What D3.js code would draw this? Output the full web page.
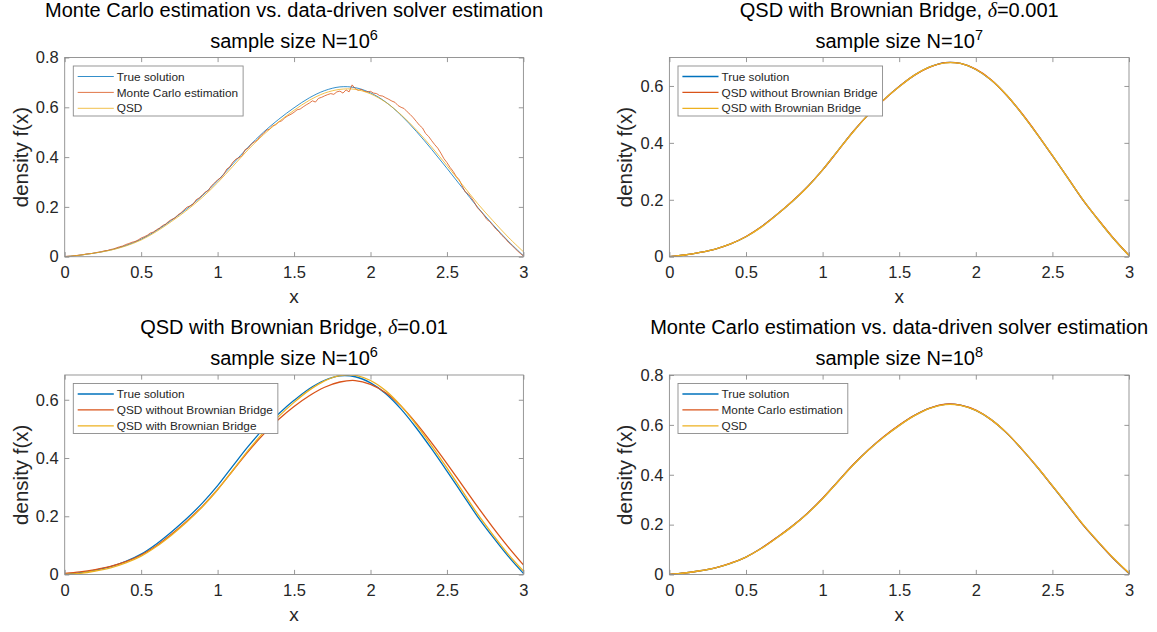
<!DOCTYPE html>
<html><head><meta charset="utf-8">
<script src="https://cdn.jsdelivr.net/npm/d3@7"></script>
<style>body{margin:0;background:#fff}svg{display:block}</style>
</head><body>
<svg id="c" width="1157" height="632"></svg>
<script>
// ---------- data ----------
const X = [0,0.1,0.2,0.3,0.4,0.5,0.6,0.7,0.8,0.9,1,1.1,1.2,1.3,1.4,1.5,1.6,1.7,1.8,1.9,2,2.1,2.2,2.3,2.4,2.5,2.6,2.7,2.8,2.9,3];
const xTicks = [0,0.5,1,1.5,2,2.5,3];
const yTicks08 = [0,0.2,0.4,0.6,0.8];
const yTicks06 = [0,0.2,0.4,0.6];

const trueSolution = [0,0.006,0.015,0.027,0.045,0.070,0.105,0.147,0.193,0.245,0.305,0.373,0.440,0.500,0.552,0.598,0.638,0.667,0.682,0.679,0.658,0.621,0.568,0.503,0.431,0.355,0.277,0.199,0.129,0.063,0.004];

// panel 1 (N=10^6)
const qsd1 = [0,0.006,0.015,0.026,0.043,0.067,0.101,0.142,0.187,0.238,0.297,0.363,0.430,0.490,0.542,0.588,0.628,0.657,0.672,0.672,0.654,0.620,0.570,0.509,0.440,0.366,0.290,0.214,0.145,0.079,0.020];
const xFine = [0,0.02,0.04,0.06,0.08,0.1,0.12,0.14,0.16,0.18,0.2,0.22,0.24,0.26,0.28,0.3,0.32,0.34,0.36,0.38,0.4,0.42,0.44,0.46,0.48,0.5,0.52,0.54,0.56,0.58,0.6,0.62,0.64,0.66,0.68,0.7,0.72,0.74,0.76,0.78,0.8,0.82,0.84,0.86,0.88,0.9,0.92,0.94,0.96,0.98,1,1.02,1.04,1.06,1.08,1.1,1.12,1.14,1.16,1.18,1.2,1.22,1.24,1.26,1.28,1.3,1.32,1.34,1.36,1.38,1.4,1.42,1.44,1.46,1.48,1.5,1.52,1.54,1.56,1.58,1.6,1.62,1.64,1.66,1.68,1.7,1.72,1.74,1.76,1.78,1.8,1.82,1.84,1.86,1.88,1.9,1.92,1.94,1.96,1.98,2,2.02,2.04,2.06,2.08,2.1,2.12,2.14,2.16,2.18,2.2,2.22,2.24,2.26,2.28,2.3,2.32,2.34,2.36,2.38,2.4,2.42,2.44,2.46,2.48,2.5,2.52,2.54,2.56,2.58,2.6,2.62,2.64,2.66,2.68,2.7,2.72,2.74,2.76,2.78,2.8,2.82,2.84,2.86,2.88,2.9,2.92,2.94,2.96,2.98,3];
const mc1 = [
 0.001,0.002,0.002,0.004,0.005, 0.007,0.008,0.011,0.012,0.013,
 0.016,0.018,0.020,0.024,0.025, 0.029,0.031,0.036,0.040,0.043,
 0.049,0.053,0.058,0.061,0.067, 0.075,0.080,0.086,0.095,0.099,
 0.108,0.115,0.125,0.131,0.142, 0.150,0.155,0.168,0.176,0.188,
 0.199,0.204,0.211,0.229,0.236, 0.248,0.260,0.266,0.285,0.296,
 0.309,0.316,0.330,0.352,0.361, 0.380,0.392,0.398,0.405,0.430,
 0.436,0.452,0.461,0.468,0.485, 0.495,0.508,0.512,0.526,0.530,
 0.541,0.546,0.558,0.566,0.572, 0.580,0.590,0.593,0.602,0.610,
 0.617,0.626,0.621,0.636,0.640, 0.646,0.651,0.655,0.652,0.662,
 0.665,0.657,0.670,0.662,0.690, 0.675,0.668,0.672,0.664,0.662,
 0.664,0.657,0.655,0.647,0.645, 0.638,0.632,0.625,0.620,0.607,
 0.600,0.595,0.582,0.571,0.558, 0.543,0.528,0.517,0.495,0.483,
 0.466,0.450,0.436,0.416,0.394, 0.378,0.359,0.343,0.323,0.309,
 0.284,0.260,0.252,0.236,0.218, 0.196,0.183,0.168,0.150,0.141,
 0.126,0.111,0.100,0.085,0.074, 0.059,0.048,0.036,0.024,0.013,
 0.003];

// panel 2 (delta=0.001, N=10^7)
const qsdNoBB2 = [0,0.006,0.015,0.027,0.045,0.071,0.105,0.147,0.194,0.245,0.305,0.372,0.440,0.500,0.551,0.598,0.638,0.666,0.682,0.679,0.659,0.622,0.568,0.504,0.432,0.355,0.278,0.199,0.130,0.064,0.005];
const qsdBB2 = [0,0.006,0.015,0.027,0.045,0.070,0.104,0.147,0.193,0.244,0.305,0.373,0.439,0.500,0.552,0.597,0.638,0.667,0.681,0.679,0.658,0.621,0.569,0.503,0.431,0.356,0.277,0.200,0.129,0.063,0.004];

// panel 3 (delta=0.01, N=10^6)
const qsdNoBB3 = [0.004,0.009,0.017,0.028,0.044,0.067,0.099,0.139,0.184,0.234,0.292,0.357,0.422,0.481,0.533,0.577,0.614,0.643,0.661,0.666,0.653,0.624,0.578,0.519,0.452,0.381,0.307,0.233,0.162,0.095,0.033];
const qsdBB3 = [0,0.004,0.012,0.023,0.040,0.063,0.096,0.136,0.181,0.232,0.291,0.358,0.426,0.488,0.543,0.591,0.633,0.665,0.683,0.684,0.666,0.631,0.579,0.514,0.442,0.366,0.287,0.208,0.137,0.070,0.012];

// panel 4 (N=10^8)
const mc4 = [0,0.006,0.015,0.027,0.046,0.070,0.105,0.148,0.193,0.245,0.306,0.373,0.441,0.500,0.553,0.599,0.638,0.667,0.683,0.679,0.659,0.621,0.569,0.503,0.432,0.355,0.278,0.199,0.130,0.063,0.005];
const qsd4 = [0,0.006,0.015,0.027,0.045,0.070,0.104,0.146,0.192,0.244,0.304,0.372,0.439,0.499,0.551,0.597,0.637,0.666,0.681,0.678,0.658,0.621,0.569,0.504,0.432,0.356,0.279,0.201,0.131,0.065,0.006];

const labelsMC = ['True solution','Monte Carlo estimation','QSD'];
const labelsBB = ['True solution','QSD without Brownian Bridge','QSD with Brownian Bridge'];

// ---------- drawing ----------
const FONT = '"Liberation Sans", Arial, Helvetica, sans-serif';
const COLORS = ['#0072BD','#D95319','#EDB120'];
const AX = '#262626';
const BOX = '#8c8c8c';
const svg = d3.select('#c');

const colL = [64.7, 523.4], colR = [669.4, 1129];
const rowT = [57.5, 256.7], rowB = [375, 574.5];

const panels = [
  {cx: colL, cy: rowT, ymax: 0.8, yt: yTicks08, lw: 0.8,
   title: [{t:'Monte Carlo estimation vs. data-driven solver estimation'}], exp: '6',
   series: [{x:X, y:trueSolution}, {x:xFine, y:mc1, lin:true}, {x:X, y:qsd1}], labels: labelsMC},
  {cx: colR, cy: rowT, ymax: 0.7, yt: yTicks06, lw: 1.3,
   title: [{t:'QSD with Brownian Bridge, '},{t:'δ', it:true},{t:'=0.001'}], exp: '7',
   series: [{x:X, y:trueSolution}, {x:X, y:qsdNoBB2}, {x:X, y:qsdBB2}], labels: labelsBB},
  {cx: colL, cy: rowB, ymax: 0.685, yt: yTicks06, lw: 1.3,
   title: [{t:'QSD with Brownian Bridge, '},{t:'δ', it:true},{t:'=0.01'}], exp: '6',
   series: [{x:X, y:trueSolution}, {x:X, y:qsdNoBB3}, {x:X, y:qsdBB3}], labels: labelsBB},
  {cx: colR, cy: rowB, ymax: 0.8, yt: yTicks08, lw: 1.3,
   title: [{t:'Monte Carlo estimation vs. data-driven solver estimation'}], exp: '8',
   series: [{x:X, y:trueSolution}, {x:X, y:mc4}, {x:X, y:qsd4}], labels: labelsMC}
];

panels.forEach((p, pi) => {
  const [x0, x1] = p.cx, [y0, y1] = p.cy;
  const xs = d3.scaleLinear([0, 3], [x0, x1]);
  const ys = d3.scaleLinear([0, p.ymax], [y1, y0]);
  const g = svg.append('g');

  const clipId = 'clip' + pi;
  svg.append('defs').append('clipPath').attr('id', clipId)
    .append('rect').attr('x', x0).attr('y', y0).attr('width', x1 - x0).attr('height', y1 - y0);

  // curves
  const lg = g.append('g').attr('clip-path', `url(#${clipId})`);
  p.series.forEach((s, si) => {
    const line = d3.line()
      .x((d, i) => xs(s.x[i]))
      .y(d => ys(d))
      .curve(s.lin ? d3.curveLinear : d3.curveCatmullRom.alpha(0.5));
    lg.append('path').attr('d', line(s.y)).attr('fill', 'none')
      .attr('stroke', COLORS[si]).attr('stroke-width', p.lw).attr('stroke-linejoin', 'round');
  });

  // axes
  const tl = 4.6;
  const styleAxis = (sel) => {
    sel.attr('font-family', FONT).attr('font-size', 16.5);
    sel.select('.domain').remove();
    sel.selectAll('line').attr('stroke', BOX).attr('stroke-width', 0.9);
    sel.selectAll('text').attr('fill', AX);
  };
  g.append('g').attr('transform', `translate(0,${y1})`)
    .call(d3.axisBottom(xs).tickValues(xTicks).tickSize(-tl).tickPadding(10).tickFormat(d3.format('')))
    .call(styleAxis);
  g.append('g').attr('transform', `translate(0,${y0})`)
    .call(d3.axisTop(xs).tickValues(xTicks).tickSize(-tl).tickFormat(''))
    .call(styleAxis);
  g.append('g').attr('transform', `translate(${x0},0)`)
    .call(d3.axisLeft(ys).tickValues(p.yt).tickSize(-tl).tickPadding(6).tickFormat(d3.format('')))
    .call(styleAxis);
  g.append('g').attr('transform', `translate(${x1},0)`)
    .call(d3.axisRight(ys).tickValues(p.yt).tickSize(-tl).tickFormat(''))
    .call(styleAxis);
  g.append('rect').attr('x', x0).attr('y', y0).attr('width', x1 - x0).attr('height', y1 - y0)
    .attr('fill', 'none').attr('stroke', BOX).attr('stroke-width', 0.9);

  // axis labels
  g.append('text').attr('x', (x0 + x1) / 2).attr('y', y1 + 46).attr('text-anchor', 'middle')
    .attr('font-family', FONT).attr('font-size', 19).attr('fill', AX).text('x');
  g.append('text').attr('transform', `translate(${x0 - 37},${(y0 + y1) / 2}) rotate(-90)`)
    .attr('text-anchor', 'middle').attr('font-family', FONT).attr('font-size', 20.5).attr('fill', AX)
    .text('density f(x)');

  // titles
  const cxm = (x0 + x1) / 2;
  const t1 = g.append('text').attr('x', cxm).attr('y', y0 - 41).attr('text-anchor', 'middle')
    .attr('font-family', FONT).attr('font-size', 20).attr('fill', '#000');
  p.title.forEach(part => {
    const ts = t1.append('tspan').text(part.t);
    if (part.it) ts.attr('font-style', 'italic').attr('font-family', '"Liberation Serif", "DejaVu Serif", serif');
  });
  const t2 = g.append('text').attr('x', cxm).attr('y', y0 - 10).attr('text-anchor', 'middle')
    .attr('font-family', FONT).attr('font-size', 20).attr('fill', '#000');
  t2.append('tspan').text('sample size N=10');
  t2.append('tspan').attr('dy', -8).attr('font-size', 14.5).text(p.exp);

  // legend
  const lx = x0 + 8.6, ly = y0 + 8.5;
  const leg = g.append('g');
  const box = leg.append('rect').attr('x', lx).attr('y', ly).attr('height', 50)
    .attr('fill', '#fff').attr('stroke', BOX).attr('stroke-width', 0.9);
  let maxW = 0;
  p.labels.forEach((lab, i) => {
    const yy = ly + 10.5 + i * 15.9;
    leg.append('line').attr('x1', lx + 4.4).attr('x2', lx + 40.5).attr('y1', yy).attr('y2', yy)
      .attr('stroke', COLORS[i]).attr('stroke-width', p.lw);
    const tx = leg.append('text').attr('x', lx + 43.5).attr('y', yy).attr('dy', '0.35em')
      .attr('font-family', FONT).attr('font-size', 11.8).attr('fill', AX).text(lab);
    maxW = Math.max(maxW, tx.node().getComputedTextLength());
  });
  box.attr('width', 43.5 + maxW + 5);
});
</script>
</body></html>
